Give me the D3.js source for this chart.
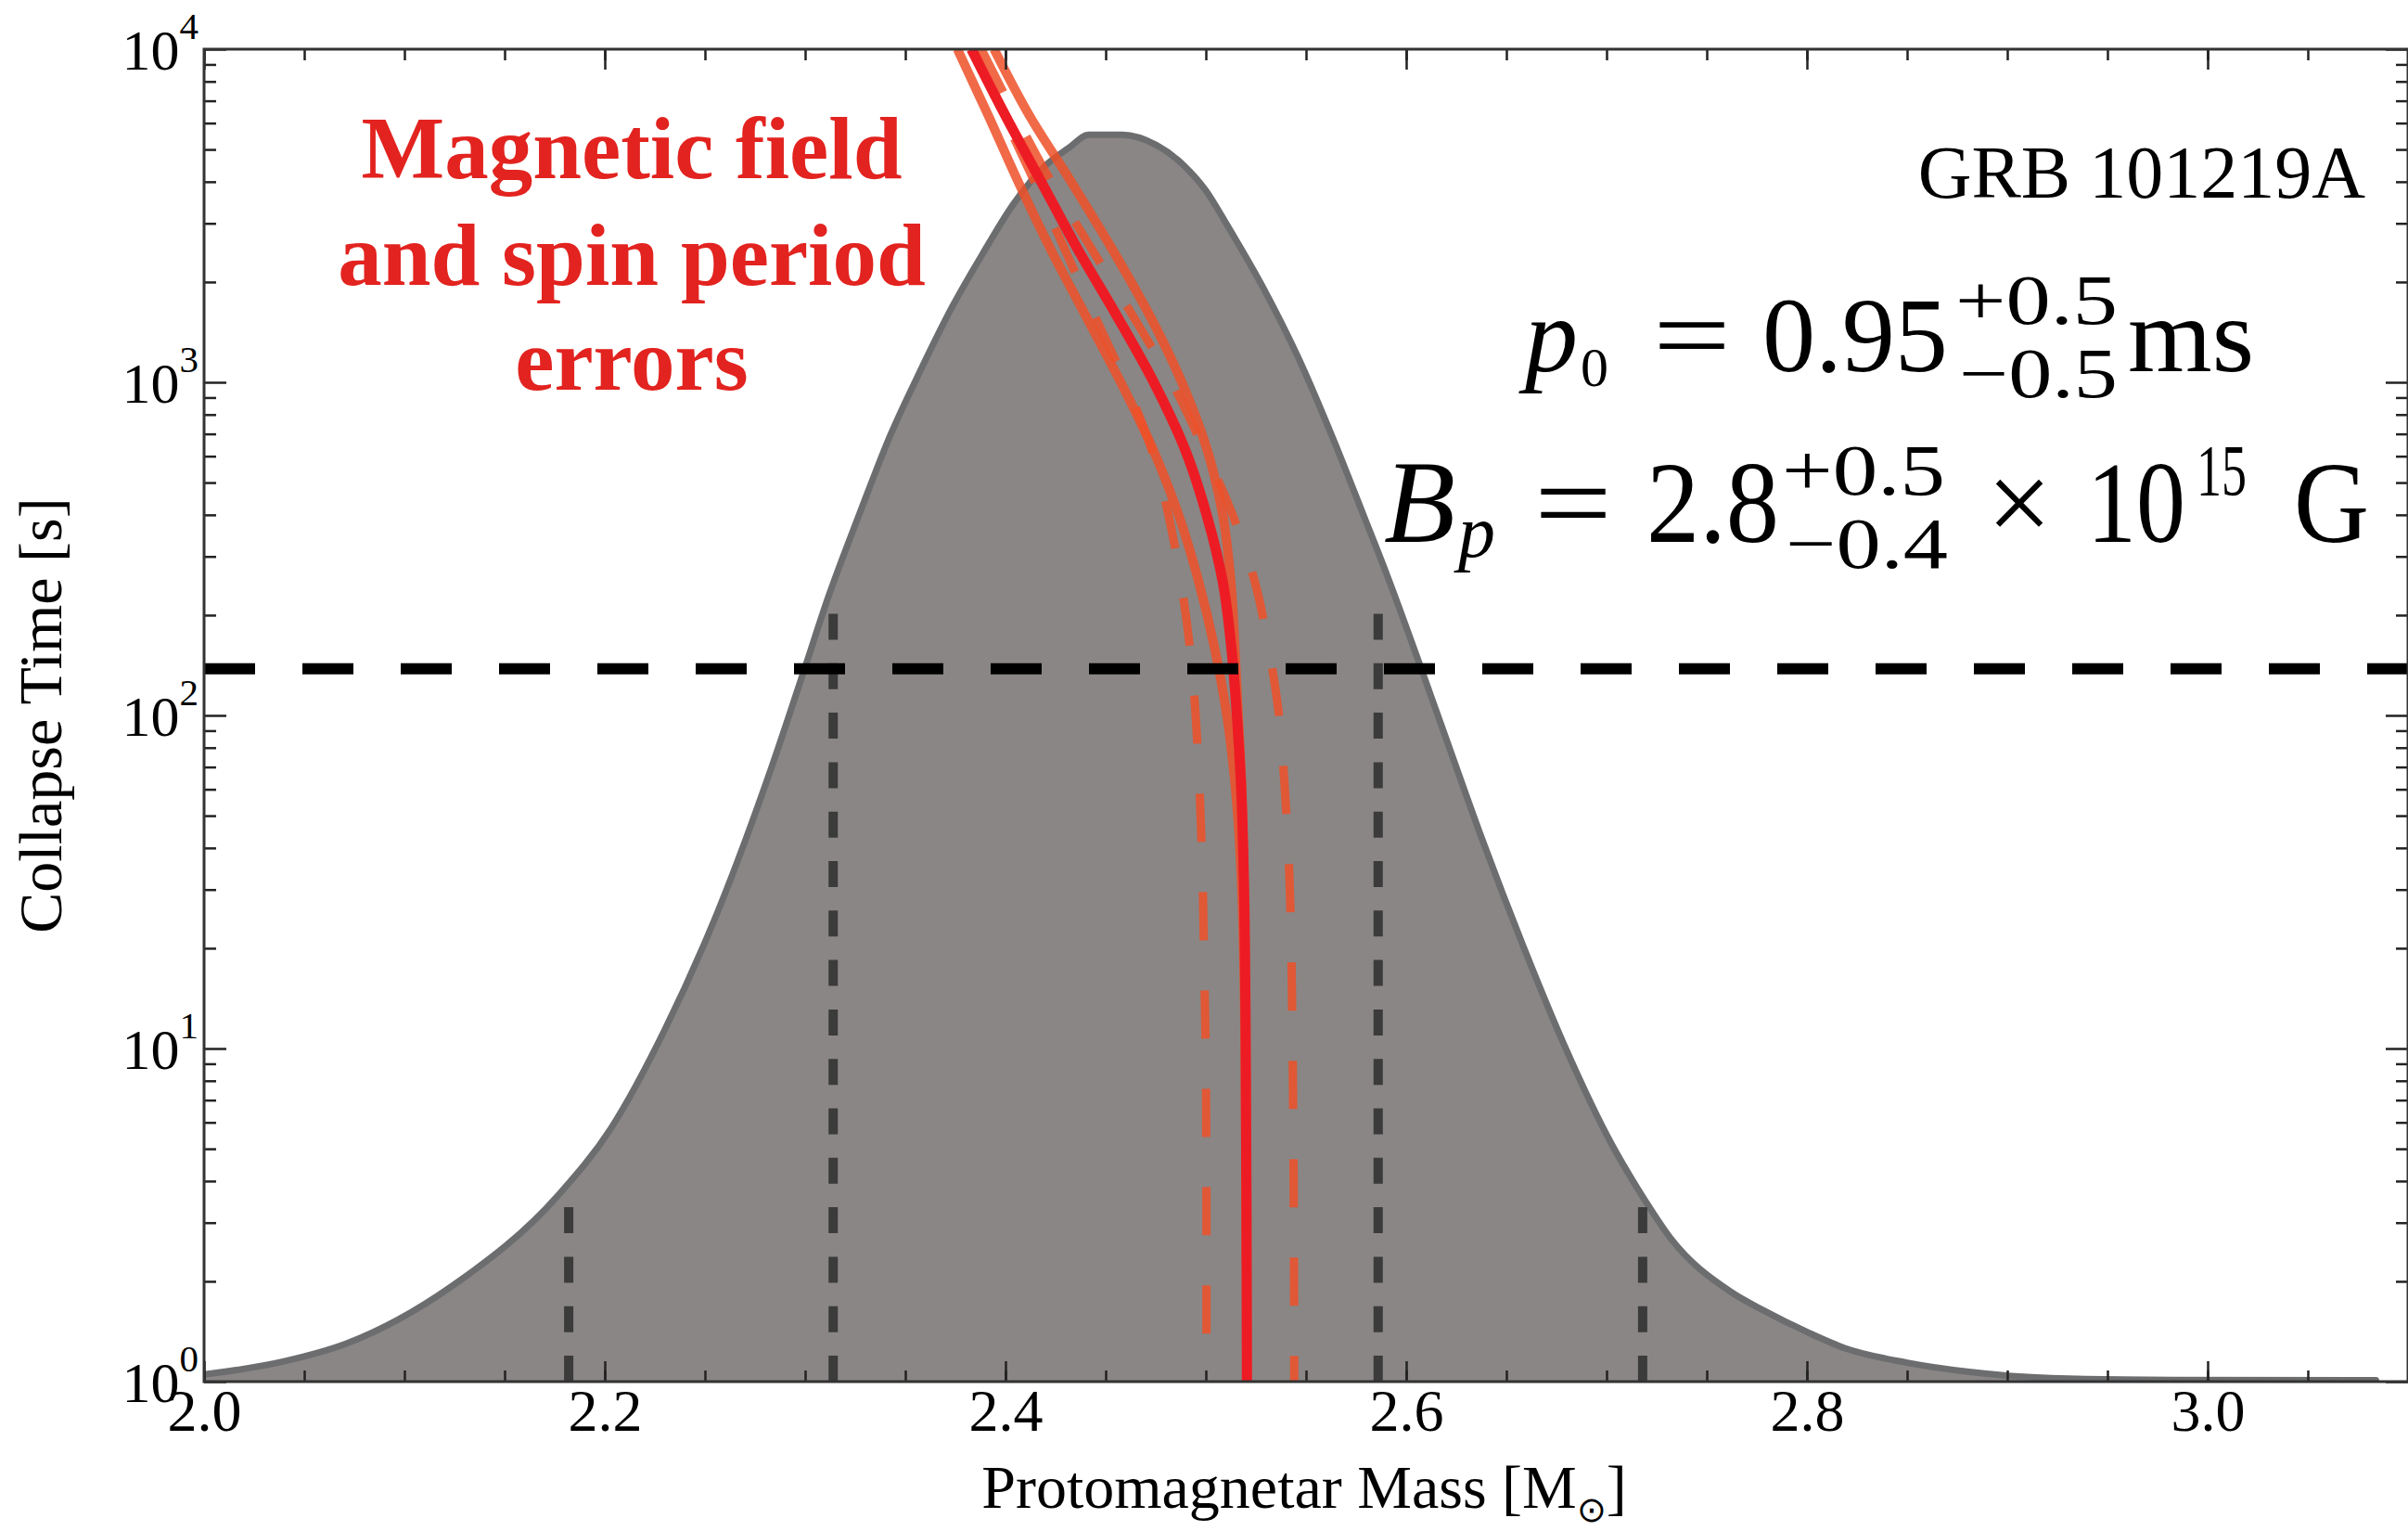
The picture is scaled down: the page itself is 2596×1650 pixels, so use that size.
<!DOCTYPE html>
<html>
<head>
<meta charset="utf-8">
<script src="https://cdn.jsdelivr.net/npm/d3@7"></script>
<style>
  html, body { margin: 0; padding: 0; background: #fff; }
  svg { display: block; }
  text { font-family: "Liberation Serif", "Times New Roman", serif; fill: #000; }
</style>
</head>
<body>
<svg id="chart" width="2596" height="1650"></svg>
<script>
// ---- data ----------------------------------------------------------------
// axis ticks
const massTicks = [2.0, 2.2, 2.4, 2.6, 2.8, 3.0];
const timeTicks = [1, 10, 100, 1000, 10000];

// mass distribution envelope: [protomagnetar mass (Msun), collapse-time axis value (s)]
const envelope = [
  [2.000, 1.05], [2.040, 1.15], [2.071, 1.30], [2.124, 1.94], [2.177, 3.64],
  [2.203, 5.75], [2.230, 11.4], [2.257, 26.3], [2.283, 69.2], [2.2997, 138],
  [2.3117, 228], [2.3272, 404], [2.3426, 695], [2.358, 1099], [2.3735, 1690],
  [2.3889, 2449], [2.4043, 3451], [2.4198, 4467], [2.4321, 5082], [2.4414, 5534],
  [2.4583, 5534], [2.4753, 5152], [2.4892, 4467], [2.500, 3767], [2.5107, 2958],
  [2.5285, 1928], [2.5462, 1183], [2.5639, 668], [2.5787, 399], [2.5905, 263],
  [2.6052, 151], [2.620, 84.9], [2.6377, 42.8], [2.6584, 20.3], [2.679, 10.2],
  [2.7027, 5.14], [2.7174, 3.64], [2.732, 2.69], [2.762, 1.86], [2.778, 1.64],
  [2.800, 1.41], [2.819, 1.26], [2.850, 1.14], [2.881, 1.07], [2.922, 1.025],
  [2.983, 1.012], [3.084, 1.01]
];

// collapse time vs mass for the best-fit spin period and field
const bestFit = [
  [2.383, 10000], [2.400, 6310], [2.418, 3981], [2.436, 2512], [2.4555, 1585],
  [2.474, 1000], [2.4895, 631], [2.5005, 398], [2.5085, 251], [2.5128, 158],
  [2.5155, 100], [2.5175, 63], [2.519, 31.6], [2.5199, 10], [2.5203, 3.16], [2.5205, 1]
];

// spin-period error bounds
const spinLow = [
  [2.376, 10000], [2.3915, 6310], [2.4065, 3981], [2.4225, 2512], [2.440, 1585],
  [2.4575, 1000], [2.4735, 631], [2.4865, 398], [2.4965, 251], [2.5045, 158],
  [2.5105, 100], [2.5145, 63], [2.5178, 31.6], [2.5196, 10], [2.5205, 1]
];
const spinHigh = [
  [2.3943, 10000], [2.412, 6310], [2.433, 3981], [2.4532, 2512], [2.472, 1585],
  [2.488, 1000], [2.5005, 631], [2.5085, 398], [2.5125, 251], [2.5145, 158],
  [2.5162, 100], [2.5178, 63], [2.519, 31.6], [2.5199, 10], [2.5205, 1]
];

// magnetic-field error bounds
const fieldLow = [
  [2.384, 10000], [2.399, 6310], [2.4146, 3981], [2.4295, 2512], [2.4445, 1585],
  [2.4598, 1000], [2.4728, 631], [2.4814, 398], [2.4876, 251], [2.4921, 158],
  [2.4949, 100], [2.4967, 63], [2.4984, 31.6], [2.4993, 15.8], [2.4999, 10],
  [2.5003, 3.16], [2.5003, 1]
];
const fieldHigh = [
  [2.388, 10000], [2.405, 6310], [2.423, 3981], [2.443, 2512], [2.4635, 1585],
  [2.483, 1000], [2.499, 631], [2.5135, 398], [2.5245, 251], [2.5315, 158],
  [2.5365, 100], [2.5392, 63], [2.5418, 31.6], [2.5429, 15.8], [2.5433, 10],
  [2.5439, 3.16], [2.5441, 1]
];

// burst duration marker (s)
const burstTime = 138;

// 1 and 2 sigma mass markers: [mass, height (s)]
const sigmaMarks = [[2.182, 3.34], [2.314, 202], [2.586, 202], [2.718, 3.34]];

// ---- layout --------------------------------------------------------------
const svg = d3.select("#chart");
const plotLeft = 220, plotRight = 2596, plotTop = 53, plotBottom = 1489;

const x = d3.scaleLinear().domain([2.0, 3.1]).range([plotLeft, plotRight]);
const y = d3.scaleLog().domain([1, 1e4]).range([plotBottom, plotTop]);

svg.append("defs").append("clipPath").attr("id", "plot-clip")
  .append("rect").attr("x", plotLeft).attr("y", plotTop)
  .attr("width", plotRight - plotLeft).attr("height", plotBottom - plotTop);

const plot = svg.append("g").attr("clip-path", "url(#plot-clip)");

// distribution envelope
const area = d3.area()
  .x(d => x(d[0])).y0(y(1)).y1(d => y(d[1]))
  .curve(d3.curveMonotoneX);
const topLine = d3.line()
  .x(d => x(d[0])).y(d => y(d[1]))
  .curve(d3.curveMonotoneX);

plot.append("path").datum(envelope)
  .attr("d", area).attr("fill", "#8a8685");
plot.append("path").datum(envelope)
  .attr("d", topLine).attr("fill", "none")
  .attr("stroke", "#6c6d6f").attr("stroke-width", 7)
  .attr("stroke-linejoin", "round").attr("stroke-linecap", "round");

// sigma markers, dashed from the bottom up
plot.selectAll("path.sigma").data(sigmaMarks).join("path")
  .attr("class", "sigma")
  .attr("d", d => `M${x(d[0])},${y(1)}V${y(d[1])}`)
  .attr("stroke", "#3b3b3b").attr("stroke-width", 10)
  .attr("stroke-dasharray", "28,25.3").attr("fill", "none");

// collapse-time curves
const curveLine = d3.line()
  .x(d => x(d[0])).y(d => y(d[1]))
  .curve(d3.curveMonotoneY);

const orange = "#ee5028";

[fieldLow, fieldHigh].forEach(series => {
  plot.append("path").datum(series)
    .attr("d", curveLine).attr("fill", "none")
    .attr("stroke", orange).attr("stroke-opacity", 0.85)
    .attr("stroke-width", 9).attr("stroke-dasharray", "52,54");
});

[spinLow, spinHigh].forEach(series => {
  plot.append("path").datum(series)
    .attr("d", curveLine).attr("fill", "none")
    .attr("stroke", orange).attr("stroke-opacity", 0.85)
    .attr("stroke-width", 10);
});

plot.append("path").datum(bestFit)
  .attr("d", curveLine).attr("fill", "none")
  .attr("stroke", "#ed1c24").attr("stroke-width", 11);

// burst duration line
plot.append("line")
  .attr("x1", plotLeft).attr("x2", plotRight)
  .attr("y1", y(burstTime)).attr("y2", y(burstTime))
  .attr("stroke", "#000").attr("stroke-width", 12)
  .attr("stroke-dasharray", "55,51");

// ---- axes ----------------------------------------------------------------
const minorMass = d3.range(2.0, 3.1001, 0.05).map(v => +v.toFixed(2));
const minorTime = [];
for (let e = 0; e < 4; e++) for (let k = 2; k <= 9; k++) minorTime.push(k * Math.pow(10, e));

function styleAxis(g) {
  g.select(".domain").remove();
  g.selectAll(".tick line").attr("stroke", "#222").attr("stroke-width", 2.5);
}

// bottom
svg.append("g").attr("transform", `translate(0,${plotBottom})`)
  .call(d3.axisBottom(x).tickValues(minorMass).tickSize(-12).tickFormat(""))
  .call(styleAxis);
const bx = svg.append("g").attr("transform", `translate(0,${plotBottom})`)
  .call(d3.axisBottom(x).tickValues(massTicks).tickSize(-22).tickPadding(8)
    .tickFormat(d3.format(".1f")))
  .call(styleAxis);
bx.selectAll(".tick text")
  .attr("font-family", "Liberation Serif").attr("font-size", 64).attr("fill", "#000");

// top
svg.append("g").attr("transform", `translate(0,${plotTop})`)
  .call(d3.axisTop(x).tickValues(minorMass).tickSize(-12).tickFormat(""))
  .call(styleAxis);
svg.append("g").attr("transform", `translate(0,${plotTop})`)
  .call(d3.axisTop(x).tickValues(massTicks).tickSize(-22).tickFormat(""))
  .call(styleAxis);

// left
svg.append("g").attr("transform", `translate(${plotLeft},0)`)
  .call(d3.axisLeft(y).tickValues(minorTime).tickSize(-13).tickFormat(""))
  .call(styleAxis);
svg.append("g").attr("transform", `translate(${plotLeft},0)`)
  .call(d3.axisLeft(y).tickValues(timeTicks).tickSize(-24).tickFormat(""))
  .call(styleAxis);

// right
svg.append("g").attr("transform", `translate(${plotRight},0)`)
  .call(d3.axisRight(y).tickValues(minorTime).tickSize(-13).tickFormat(""))
  .call(styleAxis);
svg.append("g").attr("transform", `translate(${plotRight},0)`)
  .call(d3.axisRight(y).tickValues(timeTicks).tickSize(-24).tickFormat(""))
  .call(styleAxis);

// frame
svg.append("rect")
  .attr("x", plotLeft).attr("y", plotTop)
  .attr("width", plotRight - plotLeft).attr("height", plotBottom - plotTop)
  .attr("fill", "none").attr("stroke", "#333").attr("stroke-width", 3);

// y tick labels as powers of ten
const yl = svg.append("g").selectAll("text").data(timeTicks).join("text")
  .attr("x", 214).attr("y", d => y(d) + 22)
  .attr("text-anchor", "end").attr("font-size", 62);
yl.append("tspan").text("10");
yl.append("tspan").attr("font-size", 41).attr("dy", -33)
  .text(d => Math.round(Math.log10(d)));

// axis titles
svg.append("text")
  .attr("transform", "translate(66,771) rotate(-90)")
  .attr("text-anchor", "middle").attr("font-size", 66)
  .text("Collapse Time [s]");

const xt = svg.append("text")
  .attr("x", 1406).attr("y", 1625).attr("text-anchor", "middle").attr("font-size", 66);
xt.append("tspan").text("Protomagnetar Mass [M");
xt.append("tspan").attr("font-size", 38).attr("dy", 15).text("\u2299");
xt.append("tspan").attr("dy", -15).text("]");

// ---- annotations ---------------------------------------------------------
const note = svg.append("text")
  .attr("text-anchor", "middle").attr("font-size", 95).attr("font-weight", "bold")
  .style("fill", "#e2231f");
[["Magnetic field", 192], ["and spin period", 307], ["errors", 420]].forEach(([t, yy]) => {
  note.append("tspan").attr("x", 681).attr("y", yy).text(t);
});

svg.append("text")
  .attr("x", 2550).attr("y", 213).attr("text-anchor", "end").attr("font-size", 80)
  .text("GRB 101219A");

// best-fit parameters, set piece by piece
const pieces = [
  // p0 line
  { t: "p", x: 1644, y: 400, s: 114, it: true },
  { t: "0", x: 1704, y: 416, s: 60 },
  { t: "=", x: 1782, y: 400, s: 114, w: 84 },
  { t: "0.95", x: 1900, y: 400, s: 114, w: 200 },
  { t: "+0.5", x: 2108, y: 349, s: 76, w: 175 },
  { t: "\u22120.5", x: 2112, y: 428, s: 76, w: 171 },
  { t: "ms", x: 2294, y: 400, s: 114, w: 136 },
  // Bp line
  { t: "B", x: 1492, y: 584, s: 126, it: true },
  { t: "p", x: 1572, y: 600, s: 80, it: true },
  { t: "=", x: 1654, y: 584, s: 124, w: 84 },
  { t: "2.8", x: 1775, y: 584, s: 124, w: 143 },
  { t: "+0.5", x: 1921, y: 533, s: 78, w: 176 },
  { t: "\u22120.4", x: 1925, y: 612, s: 78, w: 175 },
  { t: "\u00d7", x: 2142, y: 584, s: 124 },
  { t: "10", x: 2250, y: 584, s: 124, w: 106 },
  { t: "15", x: 2368, y: 533, s: 78, w: 54 },
  { t: "G", x: 2473, y: 584, s: 124, w: 81 }
];
svg.append("g").selectAll("text").data(pieces).join("text")
  .attr("x", d => d.x).attr("y", d => d.y)
  .attr("font-size", d => d.s)
  .attr("font-style", d => d.it ? "italic" : "normal")
  .attr("textLength", d => d.w || null)
  .attr("lengthAdjust", d => d.w ? "spacingAndGlyphs" : null)
  .text(d => d.t);
</script>
</body>
</html>
